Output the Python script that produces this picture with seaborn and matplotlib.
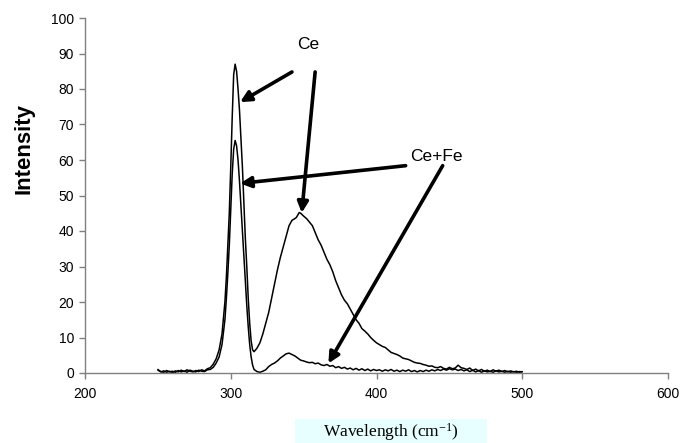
import matplotlib
matplotlib.use("Agg")
import matplotlib.pyplot as plt
import seaborn as sns
import pandas as pd
from matplotlib.patches import Rectangle

# ---------------- data ----------------
ce_wavelength = [250, 252, 254, 256, 258, 260, 262, 264, 266, 268, 270, 272, 274, 276, 278,
                 280, 282, 284, 286, 288, 290, 292, 294, 296, 297, 298, 299, 300, 301, 302,
                 303, 304, 305, 306, 307, 308, 309, 310, 311, 312, 313, 314, 315, 316, 318,
                 320, 322, 324, 326, 328, 330, 332, 334, 336, 338, 340, 342, 344, 345, 346,
                 347, 348, 350, 352, 354, 356, 358, 360, 362, 364, 366, 368, 370, 372, 374,
                 376, 378, 380, 382, 384, 386, 388, 390, 392, 394, 396, 398, 400, 402, 404,
                 406, 408, 410, 412, 414, 416, 418, 420, 422, 424, 426, 428, 430, 432, 434,
                 436, 438, 440, 442, 444, 446, 448, 450, 452, 454, 456, 458, 460, 462, 464,
                 466, 468, 470, 472, 474, 476, 478, 480, 482, 484, 486, 488, 490, 492, 494,
                 496, 498, 500]
ce_intensity = [1.0, 0.3, 0.6, 0.2, 0.5, 0.1, 0.6, 0.3, 0.8, 0.4, 0.9, 0.5, 0.3, 0.7, 0.4,
                0.9, 0.6, 1.2, 1.5, 2.5, 4.0, 6.5, 11, 20, 27, 36, 45, 58, 72, 84,
                87, 85, 80, 74, 66, 58, 48, 38, 30, 21, 14, 9, 6.5, 6.0, 7.0,
                8.5, 11, 14, 17, 21, 25, 29, 32.5, 35.5, 38.5, 41.5, 43, 43.5, 43.8, 44.5,
                45.2, 45, 44.2, 43.5, 42.5, 41.5, 39.5, 37.5, 36, 34, 32, 30.5, 28.5, 26, 24,
                22, 20.5, 19.5, 18, 16.5, 15, 14, 12.5, 11.8, 11, 10, 9.2, 8.5, 8, 7.5,
                7.2, 6.5, 5.8, 5.5, 5.2, 4.8, 4.2, 4, 3.8, 3.4, 3, 2.8, 2.7, 2.4, 2.2,
                1.9, 2.0, 1.6, 1.5, 1.8, 1.3, 1.1, 1.6, 1.2, 1.4, 2.2, 1.5, 1.3, 1.0, 1.4,
                0.7, 1.1, 0.6, 1.0, 0.5, 0.8, 0.4, 0.9, 0.5, 0.8, 0.4, 0.7, 0.3, 0.6, 0.3,
                0.5, 0.2, 0.4]

cefe_wavelength = [250, 252, 254, 256, 258, 260, 262, 264, 266, 268, 270, 272, 274, 276, 278,
                   280, 282, 284, 286, 288, 290, 292, 294, 296, 297, 298, 299, 300, 301, 302,
                   303, 304, 305, 306, 307, 308, 309, 310, 311, 312, 313, 314, 315, 316, 318,
                   320, 322, 324, 326, 328, 330, 332, 334, 336, 338, 340, 342, 344, 346, 348,
                   350, 352, 354, 356, 358, 360, 362, 364, 366, 368, 370, 372, 374, 376, 378,
                   380, 382, 384, 386, 388, 390, 392, 394, 396, 398, 400, 402, 404, 406, 408,
                   410, 412, 414, 416, 418, 420, 422, 424, 426, 428, 430, 432, 434, 436, 438,
                   440, 442, 444, 446, 448, 450, 452, 454, 456, 458, 460, 462, 464, 466, 468,
                   470, 472, 474, 476, 478, 480, 482, 484, 486, 488, 490, 492, 494, 496, 498,
                   500]
cefe_intensity = [0.8, 0.4, 0.2, 0.7, 0.3, 0.5, 0.2, 0.7, 0.3, 0.6, 0.2, 0.8, 0.5, 0.3, 0.8,
                  0.5, 0.4, 0.9, 1.0, 1.6, 2.8, 4.5, 8, 15, 21, 28, 36, 46, 56, 63,
                  65.5, 64, 60, 54, 47, 40, 33, 26, 19, 13, 8, 4.5, 2.2, 1.0, 0.4,
                  0.2, 0.5, 0.9, 1.8, 2.4, 2.8, 3.4, 4.2, 4.8, 5.4, 5.6, 5.2, 4.8, 4.2, 3.6,
                  3.4, 3.1, 2.9, 3.0, 2.6, 2.8, 2.3, 2.1, 2.4, 1.9, 2.1, 1.5, 1.8, 1.3, 1.6,
                  1.1, 1.4, 0.9, 1.3, 0.8, 1.2, 0.7, 1.1, 0.6, 1.0, 0.7, 0.9, 0.5, 0.9, 0.6,
                  1.0, 0.5, 0.8, 0.4, 0.8, 0.5, 0.9, 0.4, 0.7, 0.3, 0.7, 0.4, 0.8, 0.5, 0.9,
                  0.6, 1.0, 0.7, 1.1, 0.8, 1.2, 0.9, 1.1, 0.7, 1.0, 0.6, 0.9, 0.4, 0.8, 0.3,
                  0.7, 0.2, 0.6, 0.3, 0.5, 0.2, 0.6, 0.3, 0.5, 0.2, 0.5, 0.2, 0.4, 0.2, 0.4,
                  0.3]

x_ticks = [200, 300, 400, 500, 600]
y_ticks = [0, 10, 20, 30, 40, 50, 60, 70, 80, 90, 100]

# ---------------- plot ----------------
sns.set_theme(style="white")
plt.rcParams["font.family"] = ["Liberation Sans", "DejaVu Sans"]
plt.rcParams["mathtext.default"] = "regular"
plt.rcParams["text.color"] = "black"
plt.rcParams["xtick.color"] = "black"
plt.rcParams["ytick.color"] = "black"

fig = plt.figure(figsize=(6.82, 4.43), dpi=100)
ax = fig.add_axes([85 / 682, 70 / 443, 583 / 682, 355 / 443])

df_ce = pd.DataFrame({"Wavelength": ce_wavelength, "Intensity": ce_intensity})
df_cefe = pd.DataFrame({"Wavelength": cefe_wavelength, "Intensity": cefe_intensity})
sns.lineplot(data=df_ce, x="Wavelength", y="Intensity", ax=ax, color="black",
             lw=1.1, estimator=None, sort=False)
sns.lineplot(data=df_cefe, x="Wavelength", y="Intensity", ax=ax, color="black",
             lw=1.1, estimator=None, sort=False)

ax.set_xlim(200, 600)
ax.set_ylim(0, 100)
ax.set_xticks(x_ticks)
ax.set_yticks(y_ticks)
ax.set_xlabel("")
ax.set_ylabel("")
for s in ["top", "right"]:
    ax.spines[s].set_visible(False)
for s in ["left", "bottom"]:
    ax.spines[s].set_color("#808080")
    ax.spines[s].set_linewidth(1.0)
ax.tick_params(axis="both", which="both", direction="out", length=4, width=1,
               color="#808080", labelsize=10, labelcolor="black", pad=4,
               left=True, bottom=True)
ax.tick_params(axis="x", pad=6)

arrow = dict(arrowstyle="-|>", lw=2.6, color="black", mutation_scale=16,
             shrinkA=0, shrinkB=0)
ax.annotate("", xy=(306.4, 76.3), xytext=(342, 84.8), arrowprops=arrow)
ax.annotate("", xy=(348.7, 45.1), xytext=(357.9, 84.8), arrowprops=arrow)
ax.annotate("", xy=(306.4, 53.4), xytext=(420, 58.4), arrowprops=arrow)
ax.annotate("", xy=(367, 2.7), xytext=(445.4, 58.4), arrowprops=arrow)
ax.text(353, 92.4, "Ce", ha="center", va="center", fontsize=12.5, color="black")
ax.text(441.3, 60.9, "Ce+Fe", ha="center", va="center", fontsize=12.5, color="black")

fig.text(24 / 682, (443 - 148) / 443, "Intensity", rotation=90, ha="center",
         va="center", fontsize=16, fontweight="bold", color="black")

fig.patches.append(Rectangle((295 / 682, 0), 192 / 682, 24 / 443,
                             transform=fig.transFigure, facecolor="#E8FFFF",
                             edgecolor="none", zorder=0))
fig.text(391 / 682, 6.5 / 443, r"Wavelength (cm$^{\mathregular{-1}}$)", ha="center",
         va="baseline", fontsize=12.5, color="black",
         family=["Liberation Serif", "DejaVu Serif"])

fig.savefig("out.png", dpi=100)
